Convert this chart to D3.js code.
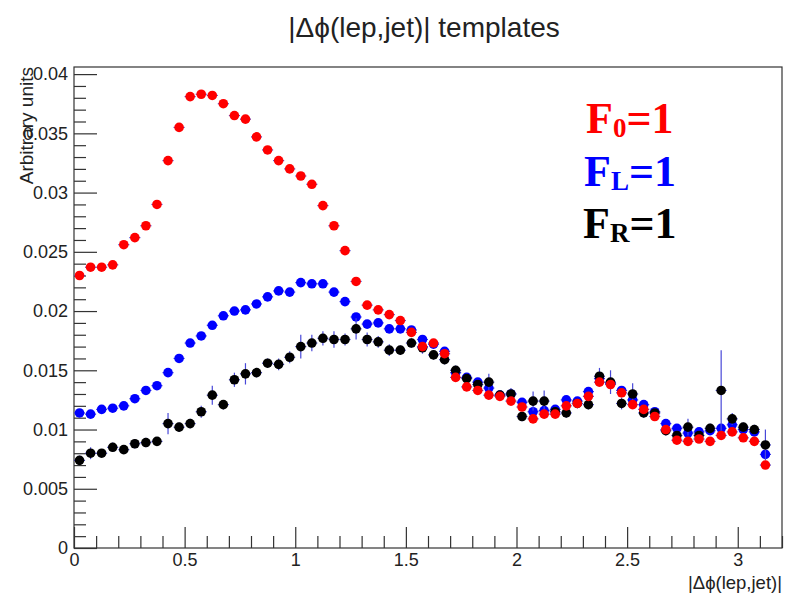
<!DOCTYPE html>
<html>
<head>
<meta charset="utf-8">
<script src="https://cdn.jsdelivr.net/npm/d3@7"></script>
<style>
  html, body { margin: 0; padding: 0; background: #fff; }
  svg { display: block; }
  .sans { font-family: "Liberation Sans", Arial, Helvetica, sans-serif; }
  .serif { font-family: "Liberation Serif", "Times New Roman", serif; font-weight: bold; }
</style>
</head>
<body>
<svg id="chart" width="785" height="594"></svg>
<script>
// ---------- data ----------
const binWidth = 0.05;           // histogram bin width in |Δϕ|
const titleText = "|Δϕ(lep,jet)| templates";
const xTitle = "|Δϕ(lep,jet)|";
const yTitle = "Arbitrary units";

const xMajorTicks = [0, 0.5, 1, 1.5, 2, 2.5, 3];
const xTickLabels = ["0", "0.5", "1", "1.5", "2", "2.5", "3"];
const yMajorTicks = [0, 0.005, 0.01, 0.015, 0.02, 0.025, 0.03, 0.035, 0.04];
const yTickLabels = ["0", "0.005", "0.01", "0.015", "0.02", "0.025", "0.03", "0.035", "0.04"];

// F0 = 1 (longitudinal)
const f0Values = [0.0230,0.0237,0.0237,0.0239,0.0256,0.0262,0.0272,0.0290,0.0327,0.0355,
  0.0381,0.0383,0.0382,0.0375,0.0365,0.0362,0.0347,0.0336,0.0327,0.0320,
  0.0314,0.0307,0.0289,0.0272,0.0251,0.0225,0.0205,0.0201,0.0197,0.0192,
  0.0182,0.0170,0.0173,0.0164,0.0144,0.0136,0.0133,0.0129,0.0128,0.0124,
  0.0119,0.0109,0.0113,0.0113,0.0120,0.0122,0.0128,0.0140,0.0138,0.0131,
  0.0121,0.0117,0.0111,0.0100,0.0091,0.0090,0.0092,0.0090,0.0095,0.0098,
  0.0093,0.0090,0.0070];
// FL = 1 (left-handed)
const fLValues = [0.0114,0.0113,0.0117,0.0118,0.0120,0.0126,0.0133,0.0137,0.0148,0.0160,
  0.0173,0.0179,0.0188,0.0196,0.0200,0.0201,0.0206,0.0212,0.0217,0.0216,
  0.0224,0.0223,0.0223,0.0216,0.0208,0.0195,0.0189,0.0190,0.0185,0.0185,
  0.0184,0.0176,0.0172,0.0166,0.0148,0.0144,0.0140,0.0135,0.0129,0.0130,
  0.0123,0.0115,0.0116,0.0117,0.0125,0.0124,0.0132,0.0143,0.0139,0.0133,
  0.0125,0.0121,0.0115,0.0105,0.0101,0.0097,0.0098,0.0099,0.0101,0.0104,
  0.0100,0.0098,0.0079];
// FR = 1 (right-handed)
const fRValues = [0.0074,0.0080,0.0080,0.0085,0.0083,0.0088,0.0089,0.0090,0.0105,0.0102,
  0.0105,0.0115,0.0129,0.0121,0.0142,0.0147,0.0148,0.0156,0.0155,0.0161,
  0.0170,0.0173,0.0177,0.0176,0.0176,0.0185,0.0176,0.0174,0.0167,0.0167,
  0.0173,0.0169,0.0163,0.0159,0.0150,0.0143,0.0138,0.0140,0.0129,0.0130,
  0.0111,0.0124,0.0124,0.0115,0.0114,0.0122,0.0121,0.0145,0.0140,0.0122,
  0.0130,0.0114,0.0114,0.0099,0.0095,0.0102,0.0095,0.0101,0.0133,0.0109,
  0.0102,0.0100,0.0087];
const f0Errors = f0Values.map(() => 0.00015);
const fLErrors = fLValues.map(() => 0.0002);
const fRErrors = [0.0004,0.0005,0.0003,0.0004,0.0003,0.0004,0.0004,0.0003,0.0009,0.0004,
  0.0004,0.0005,0.0008,0.0004,0.0006,0.0009,0.0004,0.0004,0.0005,0.0005,
  0.0010,0.0007,0.0006,0.0007,0.0005,0.0009,0.0006,0.0005,0.0005,0.0004,
  0.0004,0.0005,0.0004,0.0004,0.0004,0.0004,0.0004,0.0007,0.0004,0.0005,
  0.0004,0.0008,0.0009,0.0004,0.0004,0.0004,0.0004,0.0007,0.0010,0.0005,
  0.0009,0.0004,0.0004,0.0004,0.0004,0.0007,0.0004,0.0004,0.0034,0.0005,
  0.0004,0.0004,0.0013];

const seriesNames = ["FL", "FR", "F0"];       // draw order
const seriesColors = { F0: "#ff0000", FL: "#0000ff", FR: "#000000" };
const legendLabels = [
  { main: "F", sub: "0", rest: "=1", key: "F0" },
  { main: "F", sub: "L", rest: "=1", key: "FL" },
  { main: "F", sub: "R", rest: "=1", key: "FR" }
];

// ---------- layout ----------
const W = 785, H = 594;
const frame = { left: 74, right: 782, top: 67, bottom: 548 };
const svg = d3.select("#chart");
svg.append("rect").attr("width", W).attr("height", H).attr("fill", "#fff");

const x = d3.scaleLinear().domain([0, 3.2]).range([frame.left, frame.right]);
const y = d3.scaleLinear().domain([0, 0.0406]).range([frame.bottom, frame.top]);

// frame
svg.append("rect")
  .attr("x", frame.left).attr("y", frame.top)
  .attr("width", frame.right - frame.left).attr("height", frame.bottom - frame.top)
  .attr("fill", "none").attr("stroke", "#333").attr("stroke-width", 1.2);

// minor ticks
const yMinor = d3.range(0, 0.0405, 0.001).filter(v => Math.abs(v / 0.005 - Math.round(v / 0.005)) > 1e-6);
const xMinor = d3.range(0, 3.21, 0.1).filter(v => Math.abs(v / 0.5 - Math.round(v / 0.5)) > 1e-6);

const yAxisMinor = svg.append("g").attr("transform", `translate(${frame.left},0)`)
  .call(d3.axisLeft(y).tickValues(yMinor).tickSize(-12).tickSizeOuter(0).tickFormat(""));
const yAxis = svg.append("g").attr("transform", `translate(${frame.left},0)`)
  .call(d3.axisLeft(y).tickValues(yMajorTicks).tickSize(-23).tickSizeOuter(0).tickPadding(6)
    .tickFormat((d, i) => yTickLabels[i]));
const xAxisMinor = svg.append("g").attr("transform", `translate(0,${frame.bottom})`)
  .call(d3.axisBottom(x).tickValues(xMinor).tickSize(-12).tickSizeOuter(0).tickFormat(""));
const xAxis = svg.append("g").attr("transform", `translate(0,${frame.bottom})`)
  .call(d3.axisBottom(x).tickValues(xMajorTicks).tickSize(-21).tickSizeOuter(0).tickPadding(5)
    .tickFormat((d, i) => xTickLabels[i]));

[yAxisMinor, yAxis, xAxisMinor, xAxis].forEach(g => {
  g.select(".domain").remove();
  g.selectAll(".tick line").attr("stroke", "#333").attr("stroke-width", 1.2);
  g.selectAll(".tick text").attr("fill", "#222").attr("font-size", 18)
    .attr("font-family", null).attr("class", "sans");
});

// titles
svg.append("text").attr("class", "sans").attr("x", 424).attr("y", 37).attr("text-anchor", "middle")
  .attr("font-size", 28).attr("fill", "#222").text(titleText);
svg.append("text").attr("class", "sans").attr("x", frame.right).attr("y", 589).attr("text-anchor", "end")
  .attr("font-size", 18.5).attr("fill", "#222").text(xTitle);
svg.append("text").attr("class", "sans").attr("transform", `translate(33,${frame.top}) rotate(-90)`)
  .attr("text-anchor", "end").attr("font-size", 19).attr("fill", "#222").text(yTitle);

// data series
const seriesData = {
  F0: f0Values.map((v, i) => ({ x: binWidth * (i + 0.5), v, e: f0Errors[i] })),
  FL: fLValues.map((v, i) => ({ x: binWidth * (i + 0.5), v, e: fLErrors[i] })),
  FR: fRValues.map((v, i) => ({ x: binWidth * (i + 0.5), v, e: fRErrors[i] }))
};
const errColor = "#4848d8";
seriesNames.forEach(name => {
  const g = svg.append("g");
  const pts = seriesData[name];
  g.selectAll("line.h").data(pts).join("line").attr("class", "h")
    .attr("x1", d => x(d.x - binWidth / 2)).attr("x2", d => x(d.x + binWidth / 2))
    .attr("y1", d => y(d.v)).attr("y2", d => y(d.v))
    .attr("stroke", errColor).attr("stroke-width", 1.2);
  g.selectAll("line.v").data(pts).join("line").attr("class", "v")
    .attr("x1", d => x(d.x)).attr("x2", d => x(d.x))
    .attr("y1", d => y(d.v - d.e)).attr("y2", d => y(d.v + d.e))
    .attr("stroke", errColor).attr("stroke-width", 1.2);
  g.selectAll("circle").data(pts).join("circle")
    .attr("cx", d => x(d.x)).attr("cy", d => y(d.v)).attr("r", 4.8)
    .attr("fill", seriesColors[name]);
});

// legend text
const legendPos = [{ x: 586, y: 133 }, { x: 584, y: 186 }, { x: 583, y: 238 }];
legendLabels.forEach((L, i) => {
  const t = svg.append("text").attr("class", "serif")
    .attr("x", legendPos[i].x).attr("y", legendPos[i].y)
    .attr("font-size", 44).attr("fill", seriesColors[L.key]);
  t.append("tspan").text(L.main);
  t.append("tspan").attr("font-size", 27).attr("dy", 4).text(L.sub);
  t.append("tspan").attr("dy", -4).text(L.rest);
});
</script>
</body>
</html>
